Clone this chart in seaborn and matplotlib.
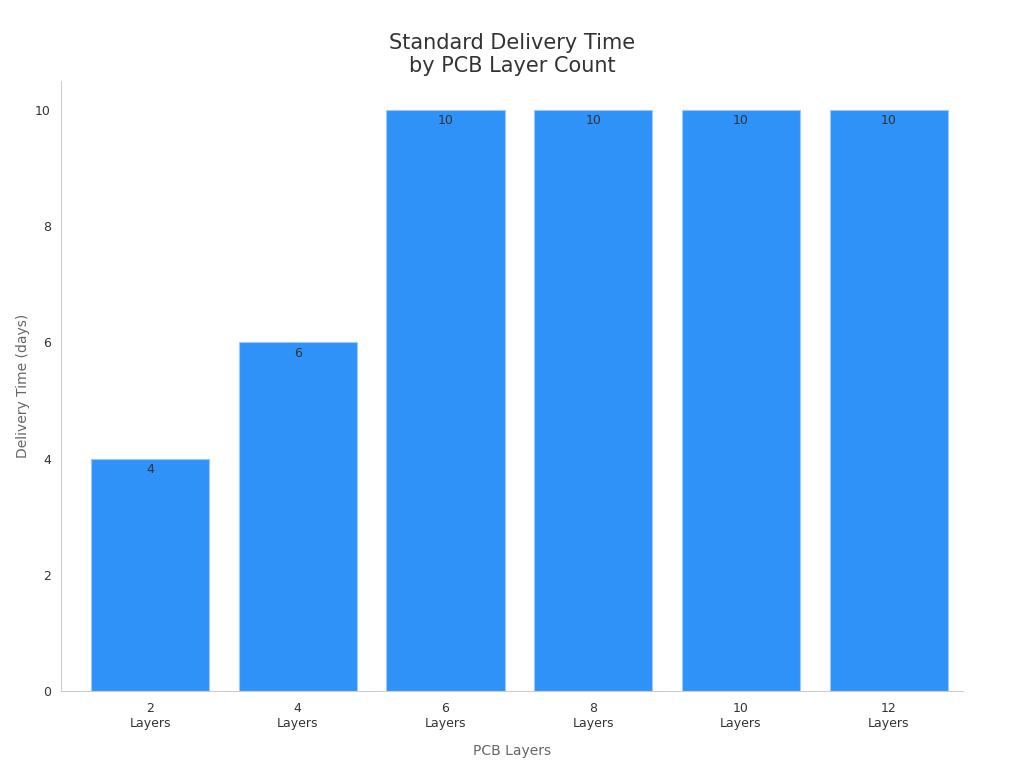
import matplotlib
matplotlib.use("Agg")
import matplotlib.pyplot as plt
import seaborn as sns
import pandas as pd

categories = ["2\nLayers", "4\nLayers", "6\nLayers", "8\nLayers", "10\nLayers", "12\nLayers"]
values = [4, 6, 10, 10, 10, 10]

sns.set_style("white")
plt.rcParams['font.family'] = ['DejaVu Sans']
df = pd.DataFrame({"cat": categories, "val": values})
fig, ax = plt.subplots(figsize=(10.24, 7.68), dpi=100)
sns.barplot(data=df, x="cat", y="val", color="#2f92f9", saturation=1, width=0.8,
            edgecolor="#9cc8f5", linewidth=0.8, ax=ax)
for i, v in enumerate(values):
    ax.text(i, v - 0.08, str(v), ha="center", va="top", fontsize=9, color="#333333")
ax.set_ylim(0, 10.5)
ax.set_xlim(-0.6, 5.5)
ax.set_title("Standard Delivery Time\nby PCB Layer Count", fontsize=15, color="#333333")
ax.set_xlabel("PCB Layers", fontsize=10, color="#666666", labelpad=10)
ax.set_ylabel("Delivery Time (days)", fontsize=10, color="#666666")
ax.tick_params(axis="both", labelsize=9, colors="#333333", length=4)
ax.tick_params(axis="both", color="#aaaaaa")
for s in ["top", "right"]:
    ax.spines[s].set_visible(False)
for s in ["left", "bottom"]:
    ax.spines[s].set_color("#cccccc")
plt.subplots_adjust(left=0.06, right=0.94, top=0.895, bottom=0.1)
fig.savefig("out.png", dpi=100)
